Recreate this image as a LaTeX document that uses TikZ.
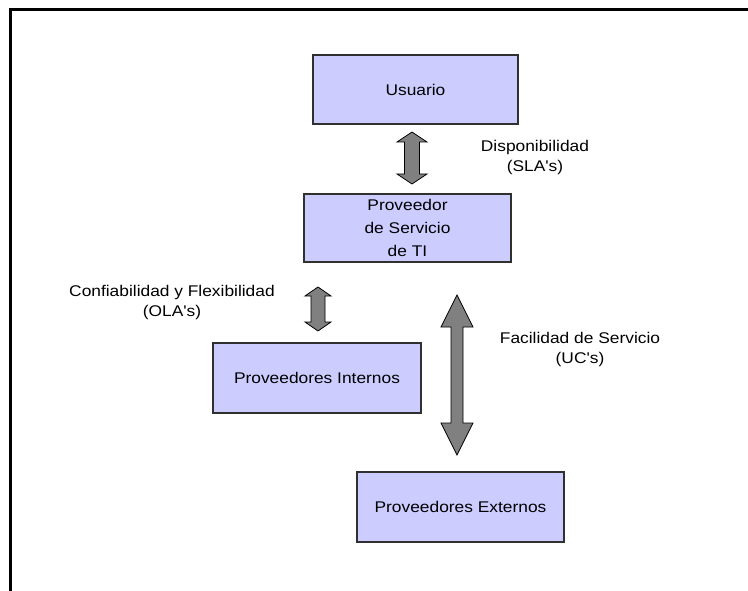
\documentclass[tikz,border=0pt]{standalone}
\usepackage{fontspec}
\setmainfont{Liberation Sans}
\newfontfamily\lblfont[FakeStretch=1.12]{Liberation Sans}
\definecolor{boxfill}{HTML}{CCCCFF}
\definecolor{boxline}{HTML}{303030}
\definecolor{arrowgray}{HTML}{808080}

% vertical block arrow with two heads:
% #1 centre x, #2 top y, #3 bottom y, #4 shaft half width, #5 head half width, #6 head length
\newcommand\vblockarrow[6]{%
  \filldraw[blockarrow]
    (#1,#2) -- (#1+#5,#2+#6) -- (#1+#4,#2+#6) -- (#1+#4,#3-#6) -- (#1+#5,#3-#6)
    -- (#1,#3) -- (#1-#5,#3-#6) -- (#1-#4,#3-#6) -- (#1-#4,#2+#6) -- (#1-#5,#2+#6)
    -- cycle;}

\begin{document}
\begin{tikzpicture}[x=1pt,y=-1pt,
  box/.style={draw=boxline, line width=1.6pt, fill=boxfill, inner sep=0pt,
              font=\lblfont\fontsize{15.5}{23}\selectfont, align=center},
  lbl/.style={font=\lblfont\fontsize{15.5}{20}\selectfont, align=center, inner sep=0pt},
  blockarrow/.style={draw=black, line width=0.8pt, fill=arrowgray, line join=miter}]

\useasboundingbox (0,0) rectangle (748,591);

% frame
\draw[line width=3pt, line cap=rect] (10,591) -- (10,10) -- (748,10);

% boxes
\node[box, minimum width=205pt, minimum height=69pt] (usr) at (415.5,89.5) {Usuario};
\node[box, minimum width=207pt, minimum height=68pt] (ti) at (407.5,228) {Proveedor\\de Servicio\\de TI};
\node[box, minimum width=208pt, minimum height=70pt] (int) at (317,378) {Proveedores Internos};
\node[box, minimum width=207pt, minimum height=70pt] (ext) at (460.5,507) {Proveedores Externos};

% double block arrows
\vblockarrow{412}{132}{184}{7.5}{15}{10}
\vblockarrow{318}{287}{331}{7}{13}{9}
\vblockarrow{457}{295}{455}{6}{16}{32}

% labels
\node[lbl] (disp) at (535,157) {Disponibilidad\\(SLA's)};
\node[lbl] (conf) at (172,302) {Confiabilidad y Flexibilidad\\(OLA's)};
\node[lbl] (fac) at (580,349) {Facilidad de Servicio\\(UC's)};

\end{tikzpicture}
\end{document}
